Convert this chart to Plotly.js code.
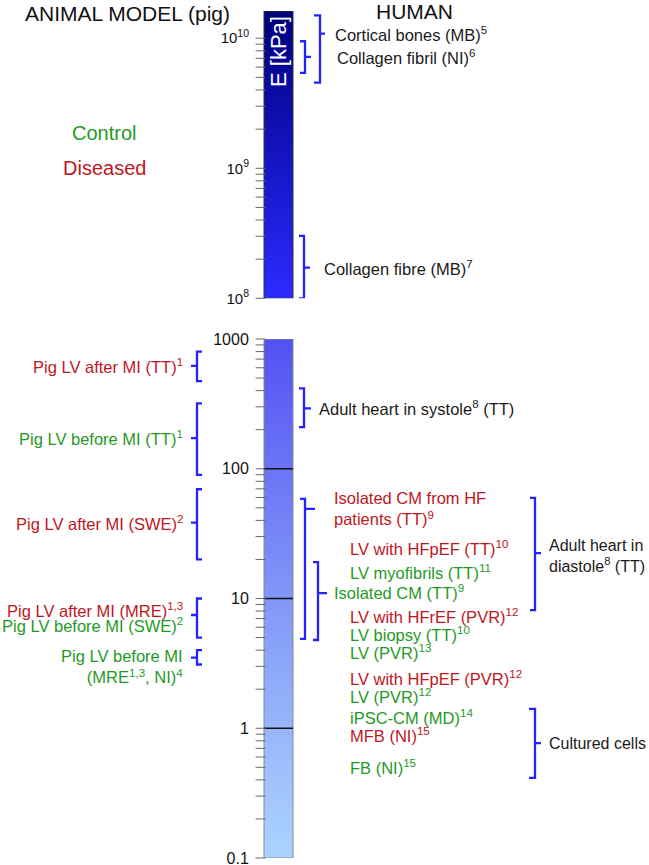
<!DOCTYPE html>
<html><head><meta charset="utf-8">
<script src="https://cdn.plot.ly/plotly-3.0.1.min.js"></script>
<style>html,body{margin:0;padding:0;background:#fff}</style>
</head><body><div id="chart" style="width:649px;height:865px"></div>
<script>
// ---------------- data (E in kPa) ----------------
const topTickVals = [1e8, 1e9, 1e10];
const topTickText = ['10<sup>8</sup>', '10<sup>9</sup>', '10<sup>10</sup>'];
const topScale = [1e8, 1.62e10];
const bottomTickVals = [0.1, 1, 10, 100, 1000];
const bottomTickText = ['0.1', '1', '10', '100', '1000'];
const bottomScale = [0.1, 1000];
const decadeLines = [1, 10, 100];

// human, top panel (bones / collagen)
const humanTopLabels = ['Cortical bones (MB)<sup>5</sup>', 'Collagen fibril (NI)<sup>6</sup>', 'Collagen fibre (MB)<sup>7</sup>'];
const humanTopLow = [4.56e9, 5.41e9, 1.0e8];
const humanTopHigh = [1.5e10, 9.48e9, 3.02e8];
const humanTopTip = [1.086e10, 7.19e9, 1.72e8];

// human, bottom panel, bracketed groups
const humanGroupLabels = ['Adult heart in systole<sup>8</sup> (TT)', 'Isolated CM from HF<br>patients (TT)<sup>9</sup>', 'Isolated CM (TT)<sup>9</sup>', 'Adult heart in<br>diastole<sup>8</sup> (TT)', 'Cultured cells'];
const humanGroupLow = [209, 4.88, 4.79, 8.15, 0.414];
const humanGroupHigh = [417, 58.5, 19.1, 59.6, 1.41];
const humanGroupTip = [292, 49, 11.0, 22.4, 0.769];
const humanGroupLabelE = [292, 49.8, 11.2, 21.3, 0.769];
const humanGroupStatus = ['reference', 'diseased', 'control', 'reference', 'reference'];

// human, bottom panel, single items
const humanItemLabels = ['LV with HFpEF (TT)<sup>10</sup>', 'LV myofibrils (TT)<sup>11</sup>', 'LV with HFrEF (PVR)<sup>12</sup>', 'LV biopsy (TT)<sup>10</sup>', 'LV (PVR)<sup>13</sup>', 'LV with HFpEF (PVR)<sup>12</sup>', 'LV (PVR)<sup>12</sup>', 'iPSC-CM (MD)<sup>14</sup>', 'MFB (NI)<sup>15</sup>', 'FB (NI)<sup>15</sup>'];
const humanItemE = [24.5, 16.0, 7.33, 5.32, 3.87, 2.44, 1.77, 1.22, 0.887, 0.503];
const humanItemStatus = ['diseased', 'control', 'diseased', 'control', 'control', 'diseased', 'control', 'control', 'diseased', 'control'];

// animal model (pig)
const animalLabels = ['Pig LV after MI (TT)<sup>1</sup>', 'Pig LV before MI (TT)<sup>1</sup>', 'Pig LV after MI (SWE)<sup>2</sup>', 'Pig LV after MI (MRE)<sup>1,3</sup>', 'Pig LV before MI (SWE)<sup>2</sup>', 'Pig LV before MI<br>(MRE<sup>1,3</sup>, NI)<sup>4</sup>'];
const animalLabelE = [620, 172, 38.4, 8.2, 6.3, 2.97];
const animalStatus = ['diseased', 'control', 'diseased', 'diseased', 'control', 'control'];
const animalBracketLow = [474, 89.6, 20, 5.0, 3.1];
const animalBracketHigh = [798, 319, 69.5, 10.0, 4.0];
const animalBracketTip = [620, 172, 38.4, 7.46, 3.5];

// ---------------- styles / positions ----------------
const FONT = 'Liberation Sans, Arial, sans-serif';
const LABEL_SIZE = 16.5;
const COL = {control: '#1f9a1f', diseased: '#c0161e', reference: '#1a1a1a'};
const BLUE = '#2323ff';
const BAR_L = 264, BAR_R = 293;
const topBracketX = [{line: 320, hook: 314, tip: 325}, {line: 305, hook: 300, tip: 311}, {line: 304, hook: 299, tip: 310}];
const topLabelX = [333, 335, 322];
const groupBracketX = [{line: 304, hook: 299, tip: 311}, {line: 305, hook: 300, tip: 315}, {line: 318, hook: 313, tip: 327}, {line: 535, hook: 530, tip: 541}, {line: 535, hook: 529, tip: 541}];
const groupLabelX = [317, 332, 332, 547, 547];
const groupLabelSize = [16.5, 16.5, 16.5, 16, 16];
const itemLabelX = 348;
const animalBracketX = {line: 197, hook: 202, tip: 191};
const animalLabelX = 185;

function minorVals(lo, hi) {
  const out = [];
  for (let d = Math.floor(Math.log10(lo)); d <= Math.ceil(Math.log10(hi)); d++)
    for (let k = 2; k <= 9; k++) { const v = k * Math.pow(10, d); if (v > lo && v < hi) out.push(v); }
  return out;
}

const traces = [];
function bracket(b, lo, hi, tip, yaxis) {
  traces.push({
    type: 'scatter', mode: 'lines', xaxis: 'x', yaxis: yaxis,
    x: [b.hook, b.line, b.line, b.tip, b.line, b.line, b.hook],
    y: [hi, hi, tip, tip, tip, lo, lo],
    line: {color: BLUE, width: 2.3}, hoverinfo: 'skip', showlegend: false
  });
}
function bar(scale, yaxis, colorscale, lineColor) {
  traces.push({
    type: 'scatter', mode: 'lines', xaxis: 'x', yaxis: yaxis,
    x: [BAR_L, BAR_R, BAR_R, BAR_L, BAR_L],
    y: [scale[0], scale[0], scale[1], scale[1], scale[0]],
    fill: 'toself', fillgradient: {type: 'vertical', colorscale: colorscale},
    line: {color: lineColor, width: 1}, hoverinfo: 'skip', showlegend: false
  });
}
function tickMarks(vals, yaxis) {
  traces.push({
    type: 'scatter', mode: 'markers', xaxis: 'x', yaxis: yaxis,
    x: vals.map(() => BAR_L - 3.5), y: vals,
    marker: {symbol: 'line-ew', size: 7, line: {color: '#666', width: 1}},
    hoverinfo: 'skip', showlegend: false, cliponaxis: false
  });
}
bar(topScale, 'y', [[0, '#2b2bff'], [0.45, '#1616c8'], [1, '#00007a']], '#333');
bar(bottomScale, 'y2', [[0, '#abd3ff'], [0.25, '#97b6fb'], [0.5, '#8197f8'], [0.75, '#6b74f5'], [1, '#5252f4']], '#888');
decadeLines.forEach(v => traces.push({
  type: 'scatter', mode: 'lines', xaxis: 'x', yaxis: 'y2', x: [BAR_L, BAR_R], y: [v, v],
  line: {color: '#111', width: 1.5}, hoverinfo: 'skip', showlegend: false
}));
tickMarks(topTickVals.concat(minorVals(topScale[0], topScale[1])), 'y');
tickMarks(bottomTickVals.concat(minorVals(bottomScale[0], bottomScale[1])), 'y2');

humanTopLabels.forEach((t, i) => bracket(topBracketX[i], humanTopLow[i], humanTopHigh[i], humanTopTip[i], 'y'));
humanGroupLabels.forEach((t, i) => bracket(groupBracketX[i], humanGroupLow[i], humanGroupHigh[i], humanGroupTip[i], 'y2'));
animalBracketLow.forEach((v, i) => bracket(animalBracketX, animalBracketLow[i], animalBracketHigh[i], animalBracketTip[i], 'y2'));

const annotations = [];
function ann(text, x, yval, yref, color, xanchor, size, extra) {
  annotations.push(Object.assign({
    text: text, x: x, y: Math.log10(yval), xref: 'x', yref: yref,
    xanchor: xanchor, yanchor: 'middle', showarrow: false,
    font: {family: FONT, size: size, color: color}, align: xanchor === 'right' ? 'right' : 'left'
  }, extra || {}));
}
humanTopLabels.forEach((t, i) => ann(t, topLabelX[i], humanTopTip[i], 'y', COL.reference, 'left', LABEL_SIZE));
humanGroupLabels.forEach((t, i) => ann(t, groupLabelX[i], humanGroupLabelE[i], 'y2', COL[humanGroupStatus[i]], 'left', groupLabelSize[i]));
humanItemLabels.forEach((t, i) => ann(t, itemLabelX, humanItemE[i], 'y2', COL[humanItemStatus[i]], 'left', LABEL_SIZE));
animalLabels.forEach((t, i) => ann(t, animalLabelX, animalLabelE[i], 'y2', COL[animalStatus[i]], 'right', LABEL_SIZE));

// headers, legend words, scale title
function paperText(text, x, ypx, color, size, extra) {
  annotations.push(Object.assign({
    text: text, x: x, y: 1 - ypx / 865, xref: 'x', yref: 'paper', xanchor: 'center', yanchor: 'middle',
    showarrow: false, font: {family: FONT, size: size, color: color}
  }, extra || {}));
}
paperText('ANIMAL MODEL (pig)', 127, 13, '#111', 21);
paperText('HUMAN', 414, 12, '#111', 21);
paperText('Control', 104, 133, COL.control, 20);
paperText('Diseased', 104, 168, COL.diseased, 20);
paperText('E [kPa]', 279, 52, '#ffffff', 22, {textangle: -90});

const axisCommon = {
  type: 'log', anchor: 'free', position: BAR_L / 649, showgrid: false, zeroline: false, showline: false,
  ticks: 'outside', ticklen: 7, tickcolor: 'rgba(0,0,0,0)', tickwidth: 1, ticklabelstandoff: 5,
  ticklabeloverflow: 'allow', automargin: false,
  tickfont: {family: FONT, size: 16, color: '#111'}, fixedrange: true, tickmode: 'array'
};
const layout = {
  width: 649, height: 865, margin: {l: 0, r: 0, t: 0, b: 0},
  paper_bgcolor: '#fff', plot_bgcolor: 'rgba(0,0,0,0)', showlegend: false, hovermode: false,
  xaxis: {range: [0, 649], visible: false, fixedrange: true},
  yaxis: Object.assign({}, axisCommon, {
    domain: [1 - 298.3 / 865, 1 - 11 / 865], range: [Math.log10(topScale[0]), Math.log10(topScale[1])],
    tickvals: topTickVals, ticktext: topTickText, tickfont: {family: FONT, size: 15, color: '#111'}
  }),
  yaxis2: Object.assign({}, axisCommon, {
    domain: [1 - 858 / 865, 1 - 339 / 865], range: [Math.log10(bottomScale[0]), Math.log10(bottomScale[1])],
    tickvals: bottomTickVals, ticktext: bottomTickText
  }),
  annotations: annotations
};
Plotly.newPlot('chart', traces, layout, {staticPlot: true, displayModeBar: false});
</script></body></html>
